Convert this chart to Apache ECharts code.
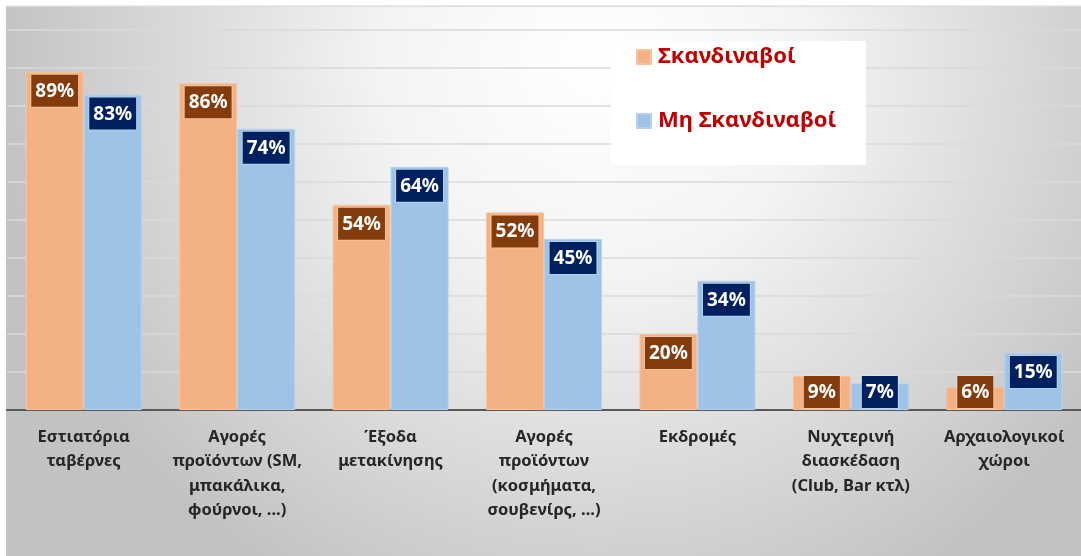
<!DOCTYPE html>
<html>
<head>
<meta charset="utf-8">
<script src="https://cdn.jsdelivr.net/npm/echarts@6/dist/echarts.min.js"></script>
<style>
html,body{margin:0;padding:0;background:#fff;}
#chart{width:1081px;height:556px;}
</style>
</head>
<body>
<div id="chart"></div>
<script>
const categories = [
  "Εστιατόρια\nταβέρνες",
  "Αγορές\nπροϊόντων (SM,\nμπακάλικα,\nφούρνοι, ...)",
  "Έξοδα\nμετακίνησης",
  "Αγορές\nπροϊόντων\n(κοσμήματα,\nσουβενίρς, ...)",
  "Εκδρομές",
  "Νυχτερινή\nδιασκέδαση\n(Club, Bar κτλ)",
  "Αρχαιολογικοί\nχώροι"
];
const seriesNames = ["Σκανδιναβοί", "Μη Σκανδιναβοί"];
const scandinavians = [89, 86, 54, 52, 20, 9, 6];
const nonScandinavians = [83, 74, 64, 45, 34, 7, 15];

const FONT = "'Noto Sans', 'Open Sans', sans-serif";

function buildData(values) {
  return values.map(v => v < 10
    ? { value: v, label: { position: 'insideBottom', distance: 2 } }
    : { value: v });
}

function labelStyle(bg) {
  return {
    show: true,
    position: 'insideTop',
    distance: 3,
    formatter: '{c}%',
    color: '#ffffff',
    fontFamily: FONT,
    fontWeight: 'bold',
    fontSize: 19,
    lineHeight: 23,
    backgroundColor: bg,
    borderColor: 'rgba(255,255,255,0.25)',
    borderWidth: 1,
    padding: [5, 4, 4, 4]
  };
}

const chart = echarts.init(document.getElementById('chart'), null, { renderer: 'canvas' });
chart.setOption({
  backgroundColor: '#ffffff',
  animation: false,
  graphic: [
    {
      type: 'rect', z: -100, silent: true,
      shape: { x: 6, y: 7, width: 1075, height: 549 },
      style: {
        fill: {
          type: 'radial', x: 0.55, y: 0.1, r: 1.1,
          colorStops: [
            { offset: 0, color: '#ffffff' },
            { offset: 0.35, color: '#f4f4f4' },
            { offset: 1, color: '#c2c2c2' }
          ]
        }
      }
    },
    {
      type: 'rect', z: -99, silent: true,
      shape: { x: 6, y: 5.5, width: 1075, height: 1.5 },
      style: { fill: '#dcdcdc' }
    },
    {
      type: 'rect', z: 50, silent: true,
      shape: { x: 611, y: 41, width: 255, height: 124 },
      style: { fill: '#ffffff' }
    }
  ],
  legend: {
    z: 60,
    left: 636,
    top: 43,
    orient: 'vertical',
    itemGap: 36,
    itemWidth: 14,
    itemHeight: 14,
    icon: 'rect',
    padding: 0,
    data: seriesNames,
    textStyle: {
      color: '#C00000',
      fontFamily: FONT,
      fontWeight: 'bold',
      fontSize: 22,
      lineHeight: 28,
      padding: [0, 0, 0, 2]
    }
  },
  grid: { left: 7, top: 30, width: 1080, height: 380, containLabel: false },
  xAxis: {
    type: 'category',
    data: categories,
    axisLine: { show: true, lineStyle: { color: '#595959', width: 2 } },
    axisTick: { show: false },
    axisLabel: {
      interval: 0,
      margin: 15,
      color: '#262626',
      fontFamily: FONT,
      fontWeight: 'bold',
      fontSize: 16.5,
      lineHeight: 24.5,
      align: 'center'
    }
  },
  yAxis: {
    type: 'value',
    min: 0,
    max: 100,
    interval: 10,
    axisLine: { show: false },
    axisTick: { show: false },
    axisLabel: { show: false },
    splitLine: { show: true, lineStyle: { color: '#dadada', width: 1.5 } }
  },
  series: [
    {
      name: seriesNames[0],
      type: 'bar',
      data: buildData(scandinavians),
      barWidth: 58,
      barGap: '0%',
      itemStyle: { color: '#F4B183', borderColor: '#F7C4A0', borderWidth: 1 },
      label: labelStyle('#843C0C')
    },
    {
      name: seriesNames[1],
      type: 'bar',
      data: buildData(nonScandinavians),
      barWidth: 58,
      barGap: '0%',
      itemStyle: { color: '#9DC3E6', borderColor: '#B4D2EE', borderWidth: 1 },
      label: labelStyle('#002060')
    }
  ]
});
</script>
</body>
</html>
